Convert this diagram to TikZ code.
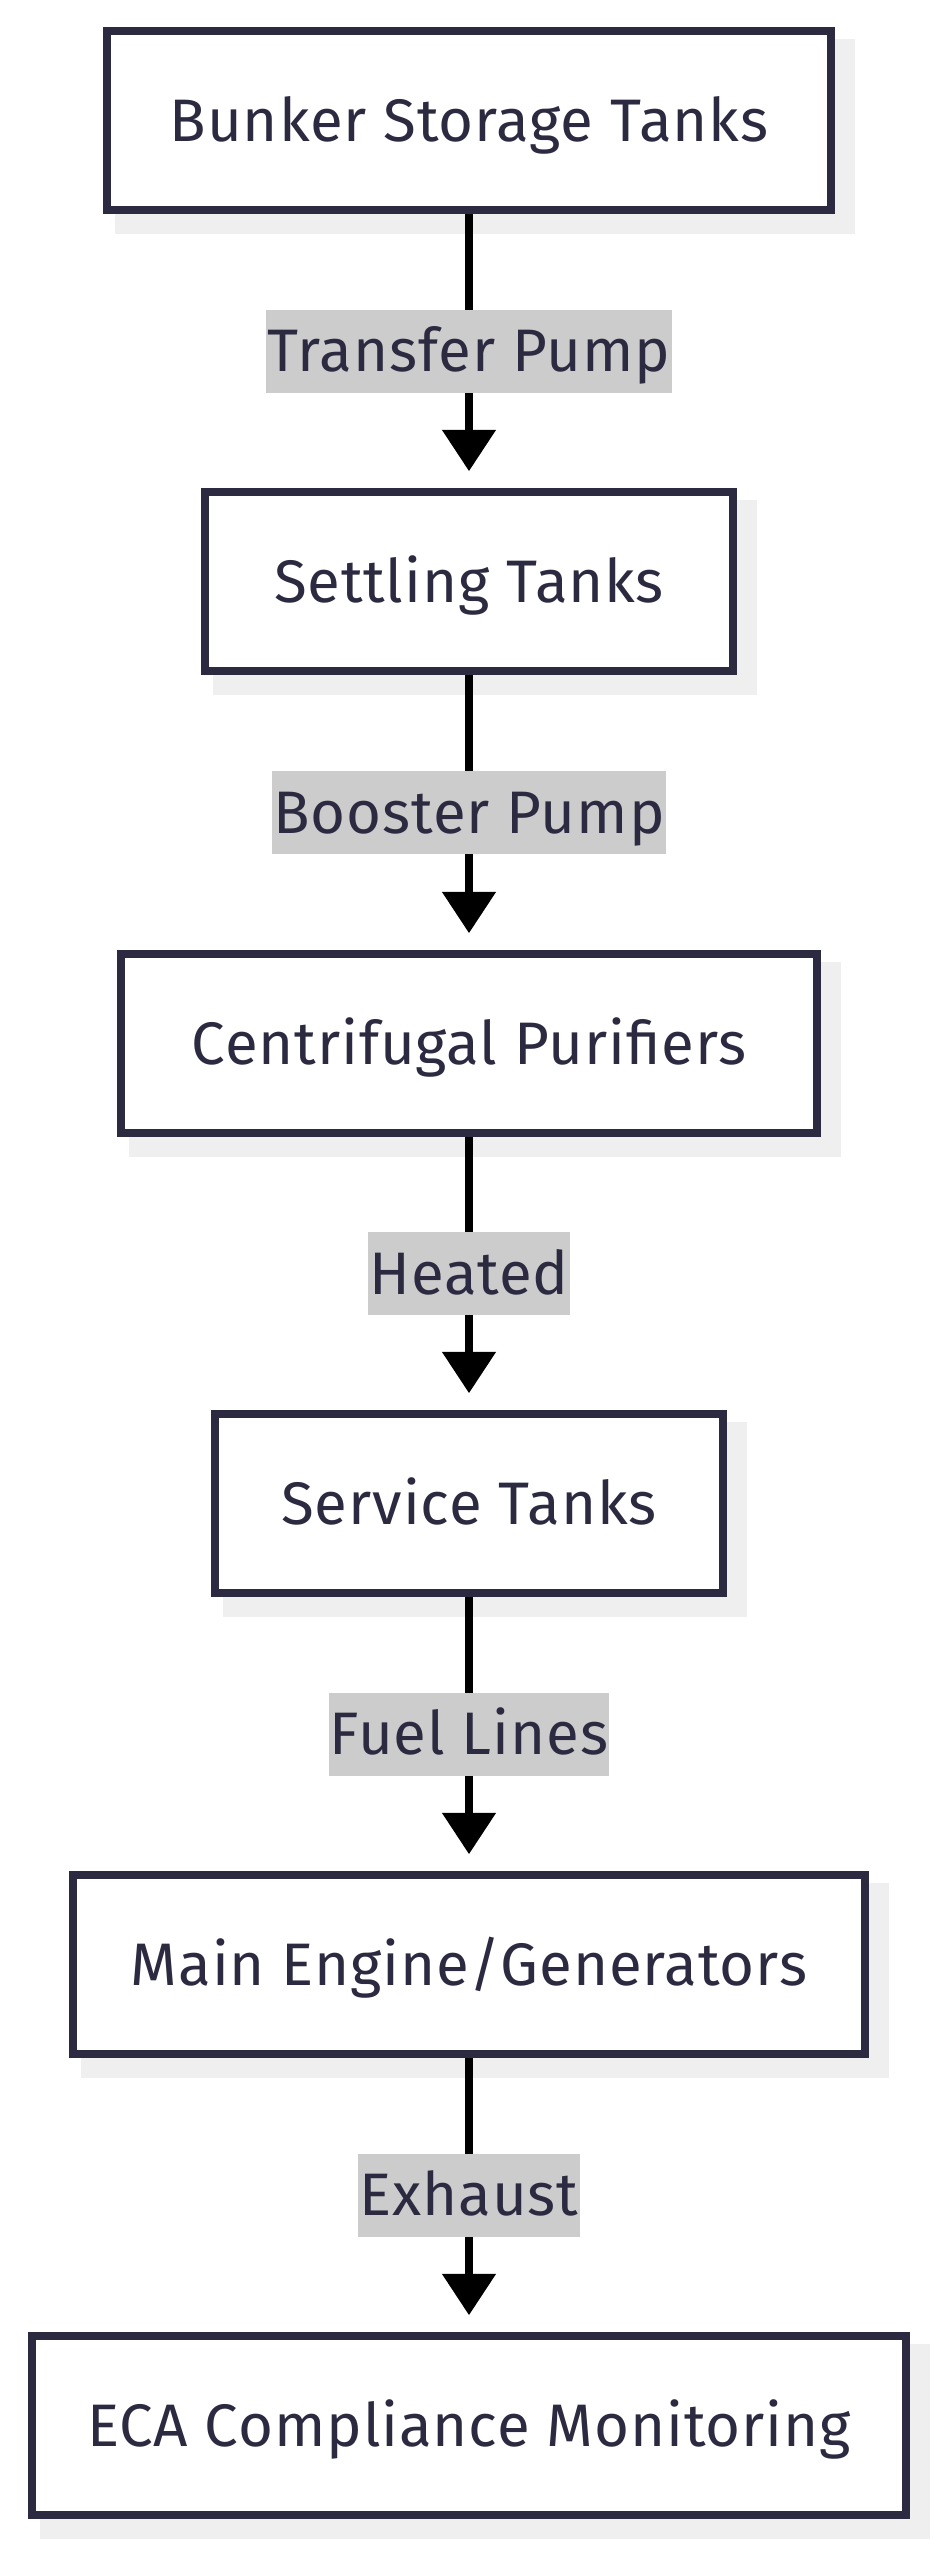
\documentclass[tikz,border=0pt]{standalone}
\usepackage{fontspec}
\setmainfont[LetterSpace=1.5]{Fira Sans}
\usetikzlibrary{arrows.meta}
\definecolor{navy}{HTML}{2B2A40}
\definecolor{lblbg}{HTML}{CCCCCC}
\definecolor{shadowc}{HTML}{EFEFEF}
\pgfdeclarelayer{bg}
\pgfdeclarelayer{mid}
\pgfsetlayers{bg,mid,main}
\tikzset{
  stage/.style={draw=navy, line width=5.7pt, fill=white, text=navy,
    minimum height=134.25pt, inner sep=0pt, text height=31pt, text depth=0pt,
    font=\fontsize{45}{54}\selectfont},
  elabel/.style={fill=lblbg, text=navy, inner xsep=1pt, inner ysep=0pt,
    minimum height=62.25pt, text height=31pt, text depth=0pt,
    font=\fontsize{45}{54}\selectfont},
  flow/.style={line width=6pt, black, -{Triangle[length=31pt, width=39pt]}, shorten >=12.75pt},
  shade/.style={fill=shadowc}
}
\begin{document}
\begin{tikzpicture}[x=0.75pt, y=-0.75pt]
\useasboundingbox (0,0) rectangle (943,2560);
\node[stage, minimum width=543pt] (b1) at (469,120.5) {Bunker Storage Tanks};
\node[stage, minimum width=396pt] (b2) at (469,581.5) {Settling Tanks};
\node[stage, minimum width=522pt] (b3) at (469,1043.5) {Centrifugal Purifiers};
\node[stage, minimum width=381pt] (b4) at (469,1503.5) {Service Tanks};
\node[stage, minimum width=594pt] (b5) at (469,1964.5) {Main Engine/Generators};
\node[stage, minimum width=655.5pt] (b6) at (469,2425.5) {ECA Compliance Monitoring};
\node[elabel] (l1) at (469,351) {Transfer Pump};
\node[elabel] (l2) at (469,812.5) {Booster Pump};
\node[elabel] (l3) at (469,1273.5) {Heated};
\node[elabel] (l4) at (469,1734) {Fuel Lines};
\node[elabel] (l5) at (469,2195) {Exhaust};
\begin{pgfonlayer}{bg}
\foreach \b in {b1,b2,b3,b4,b5,b6}{
  \fill[shade] ([shift={(12,12)}]\b.north west) rectangle ([shift={(20,20)}]\b.south east);
}
\end{pgfonlayer}
\begin{pgfonlayer}{mid}
\draw[flow] (b1.south) -- (b2.north);
\draw[flow] (b2.south) -- (b3.north);
\draw[flow] (b3.south) -- (b4.north);
\draw[flow] (b4.south) -- (b5.north);
\draw[flow] (b5.south) -- (b6.north);
\end{pgfonlayer}
\end{tikzpicture}
\end{document}
